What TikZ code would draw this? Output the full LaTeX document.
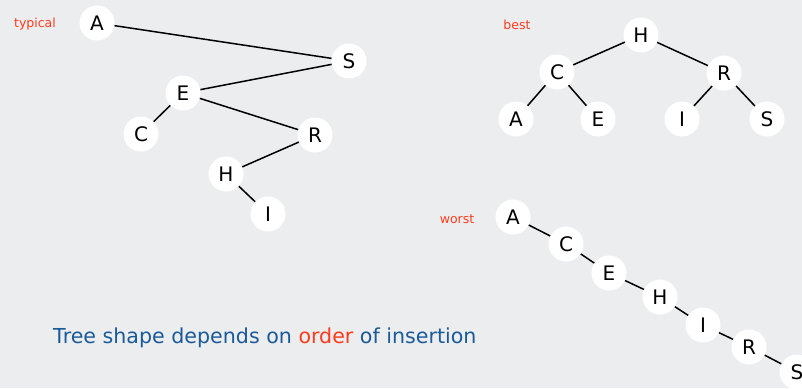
\documentclass[tikz,border=0pt]{standalone}
\usepackage{fontspec}
\setmainfont{DejaVu Sans}
\definecolor{bg}{HTML}{ECEDEF}
\definecolor{lbl}{HTML}{FF3B1C}
\definecolor{msg}{HTML}{1B5A98}
\begin{document}
\begin{tikzpicture}[x=1pt,y=-1pt,
  keynode/.style={circle,fill=white,minimum size=35pt,inner sep=0pt,font=\fontsize{20}{20}\selectfont},
  link/.style={line width=1.5pt,black},
  tag/.style={text=lbl,font=\fontsize{12.5}{12.5}\selectfont}]
\fill[bg] (0,0) rectangle (802,388);
\useasboundingbox (0,0) rectangle (802,388);
% typical
\node[tag] (t1) at (35,24) {typical};
\node[keynode] (tA) at (97,23) {A};
\node[keynode] (tS) at (349,61) {S};
\node[keynode] (tE) at (183,93) {E};
\node[keynode] (tC) at (141,134) {C};
\node[keynode] (tR) at (315,135) {R};
\node[keynode] (tH) at (226,174) {H};
\node[keynode] (tI) at (268,214) {I};
\draw[link] (tA) -- (tS);
\draw[link] (tS) -- (tE);
\draw[link] (tE) -- (tC);
\draw[link] (tE) -- (tR);
\draw[link] (tR) -- (tH);
\draw[link] (tH) -- (tI);
% best
\node[tag] (t2) at (517,25) {best};
\node[keynode] (bH) at (641,35) {H};
\node[keynode] (bC) at (557,72) {C};
\node[keynode] (bR) at (724,73) {R};
\node[keynode] (bA) at (516,119) {A};
\node[keynode] (bE) at (598,119) {E};
\node[keynode] (bI) at (682,119) {I};
\node[keynode] (bS) at (767,119) {S};
\draw[link] (bH) -- (bC);
\draw[link] (bH) -- (bR);
\draw[link] (bC) -- (bA);
\draw[link] (bC) -- (bE);
\draw[link] (bR) -- (bI);
\draw[link] (bR) -- (bS);
% worst
\node[tag] (t3) at (457,219) {worst};
\node[keynode] (wA) at (513,217) {A};
\node[keynode] (wC) at (566,244) {C};
\node[keynode] (wE) at (609,273) {E};
\node[keynode] (wH) at (660,297) {H};
\node[keynode] (wI) at (703,325) {I};
\node[keynode] (wR) at (749,347) {R};
\node[keynode] (wS) at (797,372) {S};
\draw[link] (wA) -- (wC);
\draw[link] (wC) -- (wE);
\draw[link] (wE) -- (wH);
\draw[link] (wH) -- (wI);
\draw[link] (wI) -- (wR);
\draw[link] (wR) -- (wS);
% message
\node[anchor=west,inner sep=0pt,text=msg,font=\fontsize{20.6}{20.6}\selectfont] (msg) at (53,338) {Tree shape depends on \textcolor{lbl}{order} of insertion};
\end{tikzpicture}
\end{document}
